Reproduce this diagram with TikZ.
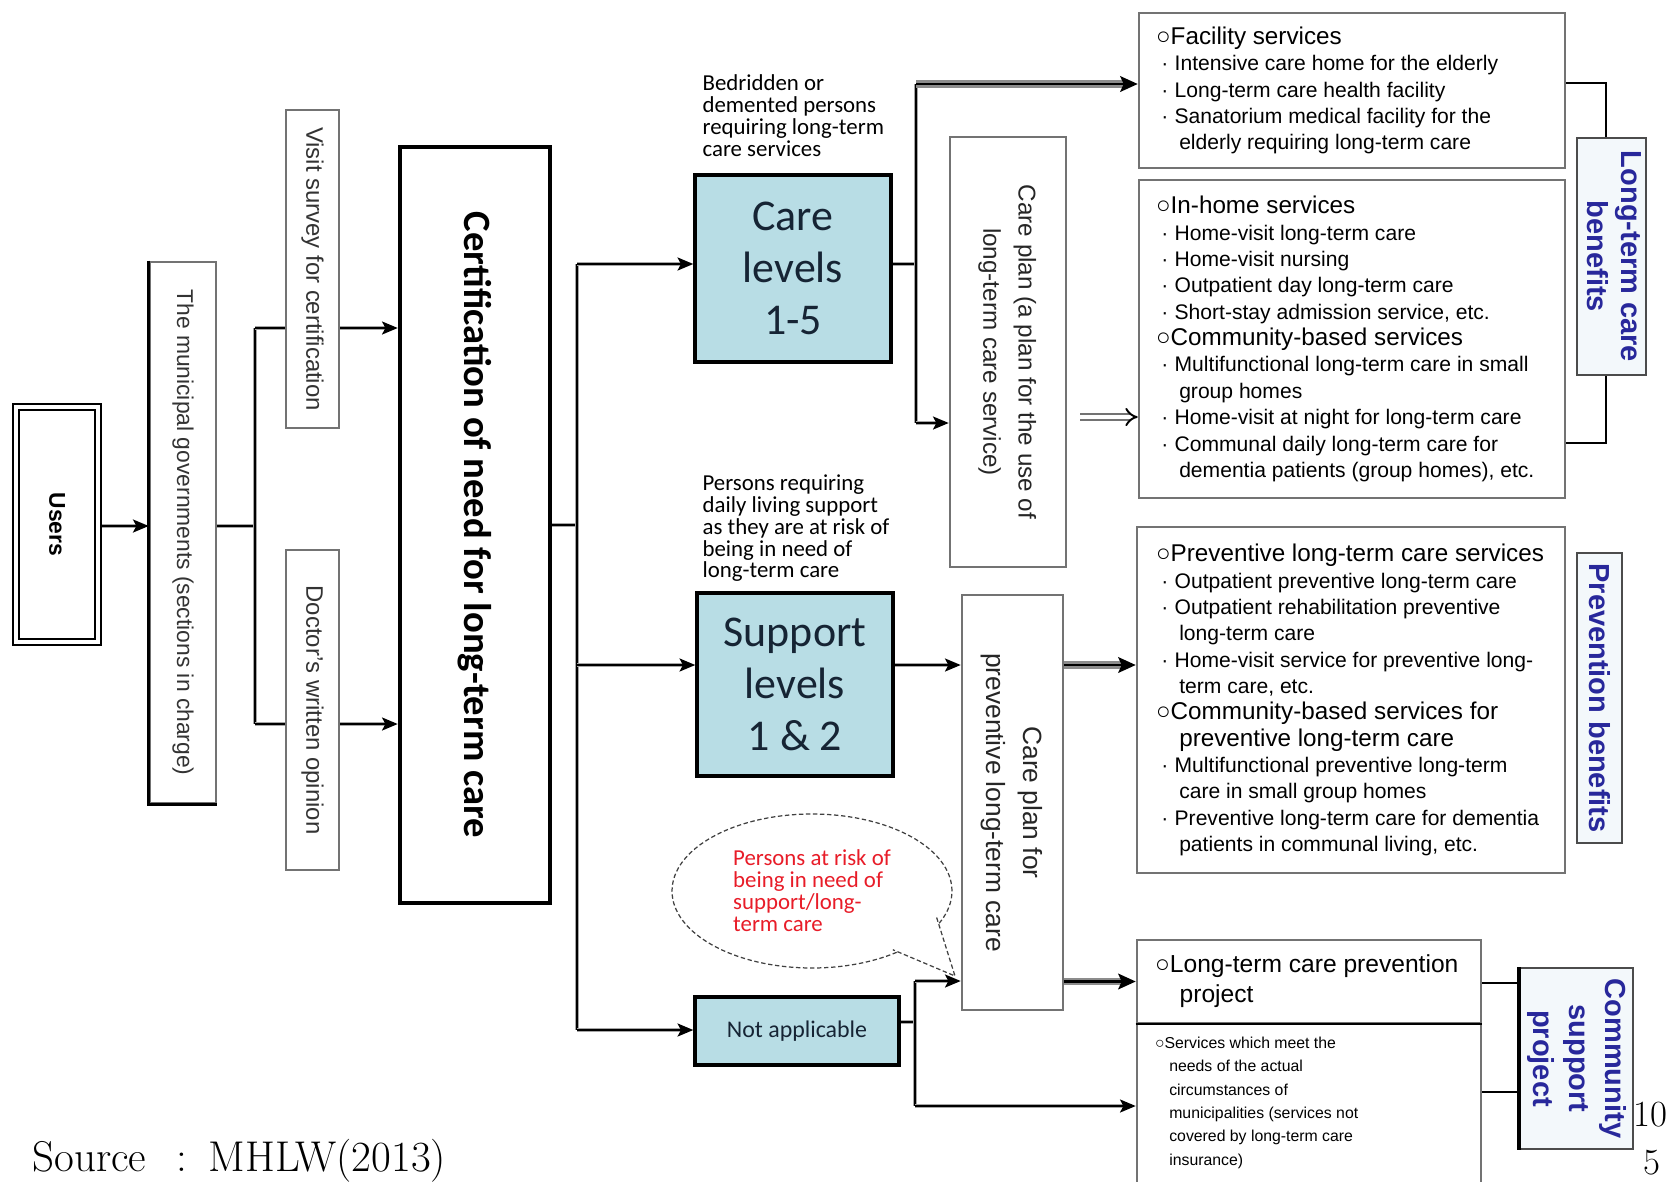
\documentclass[tikz,border=0pt]{standalone}
\usepackage{fontspec}
\usepackage{graphicx}
\newfontfamily\arialf{Liberation Sans}
\newfontfamily\calf{Carlito}
\usetikzlibrary{arrows.meta,shapes.geometric,backgrounds,calc,positioning}

\definecolor{lvlblue}{RGB}{184,221,229}
\definecolor{lvltext}{RGB}{22,36,52}
\definecolor{benblue}{RGB}{40,40,155}
\definecolor{benfill}{RGB}{243,248,251}
\definecolor{riskred}{RGB}{232,28,40}

\newcommand\hdr{\fontsize{13.8}{15}\selectfont}
\newcommand\svcitem{\hspace*{0.25em}·\hspace{0.3em}}
\newcommand\svcind{\hspace*{1.1em}}
\newcommand\tightlines{\lineskiplimit -20pt\relax}

\tikzset{
  plain box/.style={draw=black!55, line width=1.5pt, fill=white, inner sep=0pt},
  level box/.style={draw=black, line width=2pt, fill=lvlblue, inner sep=0pt, align=center, text=lvltext},
  benefit box/.style={draw=black!70, line width=1.1pt, fill=benfill, inner sep=0pt, text=benblue,
    font=\arialf\bfseries\fontsize{16.5}{19.5}\selectfont},
  list text/.style={anchor=west, inner sep=0pt, align=left, font=\arialf\fontsize{12}{15}\selectfont},
  note/.style={inner sep=0pt, align=left, font={\calf\fontsize{13}{12.5}\selectfont\tightlines}},
  page text/.style={anchor=base west, inner sep=0pt, font=\fontsize{24.5}{28}\selectfont},
  flow/.style={line width=0.9pt, preaction={draw=black!35, line width=2.8pt}},
  arr/.style={line width=0.9pt, preaction={draw=black!35, line width=2.8pt, -, shorten >=4pt},
    -{Stealth[length=9pt,width=7.5pt,inset=2pt]}},
  big arr/.style={line width=1.2pt, preaction={draw=black!45, line width=4.5pt, -, shorten >=5pt},
    -{Stealth[length=10pt,width=9pt,inset=2pt]}},
  dbl arr/.style={draw=black!55, double=white, double distance=2.4pt, line width=1.1pt, -{Implies[color=black]}},
  bubble line/.style={draw=black!75, dash pattern=on 2.5pt off 1.5pt, line width=0.7pt}
}

\begin{document}
\begin{tikzpicture}[x=0.02cm, y=-0.02cm]
\useasboundingbox (0,0) rectangle (1671,1181);

% left column
\node[draw, line width=1.1pt, double, double distance=2.6pt, minimum width=1.64cm, minimum height=4.7cm,
  inner sep=0pt, font=\arialf\bfseries\fontsize{13}{15}\selectfont] (users) at (57,524.5) {\rotatebox{-90}{Users}};
\node[plain box, minimum width=1.32cm, minimum height=10.82cm, font=\arialf\fontsize{13}{15}\selectfont, text=black!80]
  (muni) at (183,532.5) {\rotatebox{-90}{The municipal governments (sections in charge)}};
\draw[line width=1.5pt] (muni.north west) -- (muni.south west) -- (muni.south east);
\node[plain box, minimum width=1.06cm, minimum height=6.36cm, font=\arialf\fontsize{13.6}{15}\selectfont, text=black!80]
  (visit) at (312.5,269) {\rotatebox{-90}{Visit survey for certification}};
\node[plain box, minimum width=1.06cm, minimum height=6.4cm, font=\arialf\fontsize{13.6}{15}\selectfont, text=black!80]
  (doctor) at (312.5,710) {\rotatebox{-90}{Doctor’s written opinion}};
\node[draw=black, line width=2.6pt, fill=white, minimum width=3cm, minimum height=15.12cm, inner sep=0pt,
  font=\calf\bfseries\fontsize{22}{26}\selectfont] (cert) at (475,525) {\rotatebox{-90}{Certification of need for long-term care}};

% levels
\node[level box, minimum width=3.92cm, minimum height=3.74cm, font=\calf\fontsize{25}{29.5}\selectfont]
  (care) at (793,268.5) {Care\\levels\\1-5};
\node[level box, minimum width=3.92cm, minimum height=3.66cm, font=\calf\fontsize{25}{29.5}\selectfont]
  (support) at (795,684.5) {Support\\levels\\1 \& 2};
\node[level box, minimum width=4.08cm, minimum height=1.36cm, font=\calf\fontsize{13.6}{16}\selectfont]
  (notapp) at (797,1031) {Not applicable};
\node[note, anchor=south west] (bedtxt) at ([xshift=0.18cm, yshift=0.32cm]care.north west)
  {Bedridden or\\demented persons\\requiring long-term\\care services};
\node[note, anchor=south west] (perstxt) at ([xshift=0.14cm, yshift=0.18cm]support.north west)
  {Persons requiring\\daily living support\\as they are at risk of\\being in need of\\long-term care};

% bubble
\node[ellipse, bubble line, fill=white, minimum width=5.6cm, minimum height=3.08cm, note, text=riskred]
  (bubble) at (812,891) {Persons at risk of\\being in need of\\support/long-\\term care};
\coordinate (tailtip) at (955,976);
\fill[white] ($(bubble.center)!0.95!(bubble.-12)$) -- (tailtip) -- ($(bubble.center)!0.95!(bubble.-36)$) -- cycle;
\draw[bubble line] ($(bubble.center)!0.95!(bubble.-12)$) -- (tailtip) -- ($(bubble.center)!0.95!(bubble.-36)$);

% care plans
\node[plain box, minimum width=2.32cm, minimum height=8.6cm, font=\arialf\fontsize{13.8}{20}\selectfont, text=black!85]
  (plan1) at (1008,352) {\rotatebox{-90}{\begin{tabular}{@{}c@{}}Care plan (a plan for the use of\\long-term care service)\end{tabular}}};
\node[plain box, minimum width=2.02cm, minimum height=8.3cm, font=\arialf\fontsize{15}{21}\selectfont, text=black!85]
  (plan2) at (1012.5,802.5) {\rotatebox{-90}{\begin{tabular}{@{}c@{}}Care plan for\\preventive long-term care\end{tabular}}};

% services
\node[plain box, minimum width=8.52cm, minimum height=3.1cm] (facility) at (1352,90.5) {};
\node[list text] (factxt) at ([xshift=0.36cm]facility.west)
  {{\hdr ○Facility services}\\
   \svcitem Intensive care home for the elderly\\
   \svcitem Long-term care health facility\\
   \svcitem Sanatorium medical facility for the\\
   \svcind elderly requiring long-term care};
\node[plain box, minimum width=8.52cm, minimum height=6.36cm] (inhome) at (1352,339) {};
\node[list text] (inhometxt) at ([xshift=0.36cm]inhome.west)
  {{\hdr ○In-home services}\\
   \svcitem Home-visit long-term care\\
   \svcitem Home-visit nursing\\
   \svcitem Outpatient day long-term care\\
   \svcitem Short-stay admission service, etc.\\
   {\hdr ○Community-based services}\\
   \svcitem Multifunctional long-term care in small\\
   \svcind group homes\\
   \svcitem Home-visit at night for long-term care\\
   \svcitem Communal daily long-term care for\\
   \svcind dementia patients (group homes), etc.};
\node[plain box, minimum width=8.56cm, minimum height=6.92cm] (prevent) at (1351,700) {};
\node[list text] (preventtxt) at ([xshift=0.4cm]prevent.west)
  {{\hdr ○Preventive long-term care services}\\
   \svcitem Outpatient preventive long-term care\\
   \svcitem Outpatient rehabilitation preventive\\
   \svcind long-term care\\
   \svcitem Home-visit service for preventive long-\\
   \svcind term care, etc.\\
   {\hdr ○Community-based services for}\\
   \svcind{\hdr preventive long-term care}\\
   \svcitem Multifunctional preventive long-term\\
   \svcind care in small group homes\\
   \svcitem Preventive long-term care for dementia\\
   \svcind patients in communal living, etc.};
\node[plain box, minimum width=6.88cm, minimum height=1.66cm] (ltcprev) at (1309,981.5) {};
\node[list text, font=\arialf\fontsize{14}{17}\selectfont] (ltcprevtxt) at ([xshift=0.38cm]ltcprev.west)
  {○Long-term care prevention\\\hspace*{1em}project};
\node[plain box, minimum width=6.88cm, minimum height=3.48cm] (svc) at (1309,1110) {};
\node[list text, anchor=north west, font=\arialf\fontsize{9}{13.3}\selectfont] (svctxt)
  at ([xshift=0.38cm, yshift=-0.3cm]svc.north west)
  {○Services which meet the\\\hspace*{0.9em}needs of the actual\\\hspace*{0.9em}circumstances of\\
   \hspace*{0.9em}municipalities (services not\\\hspace*{0.9em}covered by long-term care\\\hspace*{0.9em}insurance)};
\draw[line width=1.3pt] (ltcprev.south west) -- (ltcprev.south east);

% benefit labels
\node[benefit box, minimum width=1.22cm, minimum height=4.74cm] (ltcben) at (1611.5,256.5)
  {\rotatebox{-90}{\begin{tabular}{@{}c@{}}Long-term care\\benefits\end{tabular}}};
\node[benefit box, minimum width=0.9cm, minimum height=5.8cm] (prevben) at (1599.5,698)
  {\rotatebox{-90}{Prevention benefits}};
\node[benefit box, minimum width=2.26cm, minimum height=3.62cm, font=\arialf\bfseries\fontsize{16.5}{20.5}\selectfont]
  (commsup) at (1576.5,1058.5) {\rotatebox{-90}{\begin{tabular}{@{}c@{}}Community\\support\\project\end{tabular}}};
\draw[line width=2pt] (commsup.north west) -- (commsup.south west);

% page texts
\node[page text] (src) at (32,1171) {Source\hspace{0.7em}:\hspace{0.5em}MHLW(2013)};
\node[page text, font=\fontsize{21}{24}\selectfont] (pagenum) at (1633,1126) {10};
\node[page text, font=\fontsize{21}{24}\selectfont] (pagenumb) at (1643,1174) {5};

% connectors
\begin{scope}[on background layer]
  \fill[white] (0,0) rectangle (1671,1181);
  \coordinate (j1) at (255,526);
  \coordinate (j1t) at (255,328);
  \coordinate (j1b) at (255,724);
  \coordinate (j2t) at (577,264);
  \coordinate (j2m) at (577,665);
  \coordinate (j2b) at (577,1030);
  \coordinate (j3) at (916,264);
  \coordinate (j3t) at (916,84);
  \coordinate (j3b) at (916,423);
  \coordinate (j4) at (915,1022);
  \coordinate (j4t) at (915,981);
  \coordinate (j4b) at (915,1106);
  \coordinate (dblstart) at (1080,417);
  \coordinate (brt) at (1606,83);
  \coordinate (brb) at (1606,443);
  \coordinate (cs1) at (1500,983);
  \coordinate (cs2) at (1500,1092);

  \draw[arr] (users.east |- j1) -- (j1 -| muni.west);
  \draw[flow] (j1 -| muni.east) -- (j1);
  \draw[flow] (j1t) -- (j1b);
  \draw[arr] (j1t) -- (j1t -| cert.west);
  \draw[arr] (j1b) -- (j1b -| cert.west);
  \draw[flow] (cert.east) -- (cert.east -| j2t);
  \draw[flow] (j2t) -- (j2b);
  \draw[arr] (j2t) -- (j2t -| care.west);
  \draw[arr] (j2m) -- (j2m -| support.west);
  \draw[arr] (j2b) -- (j2b -| notapp.west);
  \draw[flow] (care.east |- j3) -- (j3);
  \draw[flow] (j3t) -- (j3b);
  \draw[big arr] (j3t) -- (j3t -| facility.west);
  \draw[arr] (j3b) -- (j3b -| plan1.west);
  \draw[dbl arr] (dblstart) -- (dblstart -| inhome.west);
  \draw[arr] (support.east |- j2m) -- (j2m -| plan2.west);
  \draw[big arr] (plan2.east |- j2m) -- (j2m -| prevent.west);
  \draw[flow] (notapp.east |- j4) -- (j4);
  \draw[flow] (j4t) -- (j4b);
  \draw[arr] (j4t) -- (j4t -| plan2.west);
  \draw[arr] (j4b) -- (j4b -| svc.west);
  \draw[big arr] (plan2.east |- ltcprev) -- (ltcprev.west);
  \draw[line width=1pt] (facility.east |- brt) -- (brt) -- (brb) -- (inhome.east |- brb);
  \draw[line width=1pt] (ltcprev.east |- cs1) -- (cs1 -| commsup.west);
  \draw[line width=1pt] (svc.east |- cs2) -- (cs2 -| commsup.west);
\end{scope}
\end{tikzpicture}
\end{document}
